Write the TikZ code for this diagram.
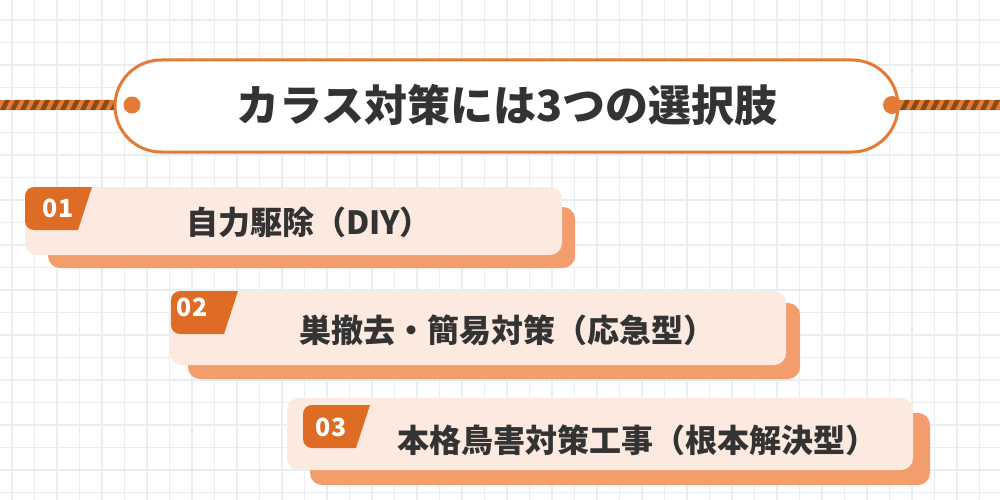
\documentclass[tikz,border=0pt]{standalone}
\usepackage{fontspec}
\newfontfamily\jpfont{Noto Sans CJK JP}
\definecolor{ttlorange}{HTML}{E37B35}
\definecolor{badgec}{HTML}{DF6C24}
\definecolor{cardc}{HTML}{FCE9DF}
\definecolor{shadowc}{HTML}{F39D6C}
\definecolor{ropedark}{HTML}{8A4B12}
\definecolor{textc}{HTML}{333333}
\definecolor{gridc}{HTML}{E9EEF4}
\tikzset{
  front/.style={fill=cardc, rounded corners=12pt},
  shadowbox/.style={fill=shadowc, rounded corners=12pt},
  cardtext/.style={inner sep=0pt, text=textc, font=\jpfont\bfseries\fontsize{32pt}{36pt}\selectfont},
  numtext/.style={inner sep=0pt, text=white, font=\jpfont\bfseries\fontsize{25pt}{28pt}\selectfont},
  titletext/.style={inner sep=0pt, text=textc, font=\jpfont\bfseries\fontsize{43pt}{48pt}\selectfont},
  gridline/.style={gridc, line width=1.1pt},
}
\newcommand\mybadge[2]{%
  \begin{scope}
    \clip[rounded corners=9pt] (#1,#2) rectangle ++(100,43);
    \fill[badgec] (#1,#2) -- ++(67,0) -- ++(-14,43) -- ++(-53,0) -- cycle;
  \end{scope}}
\begin{document}
\begin{tikzpicture}[x=1pt,y=-1pt]
\useasboundingbox (0,0) rectangle (1000,500);
\fill[white] (0,0) rectangle (1000,500);
% grid
\foreach \i in {0,...,44}{
  \draw[gridline] ({12+22.5*\i},0) -- ({12+22.5*\i},500);
}
\foreach \j in {0,...,21}{
  \draw[gridline] (0,{20+22.5*\j}) -- (1000,{20+22.5*\j});
}
% ropes
\begin{scope}
  \clip (0,100) rectangle (120,110);
  \fill[ttlorange] (0,100) rectangle (120,110);
  \foreach \s in {-20,-10,...,120}{
    \fill[ropedark] (\s,110) -- ++(5,0) -- ++(5,-10) -- ++(-5,0) -- cycle;
  }
\end{scope}
\begin{scope}
  \clip (893,100) rectangle (1000,110);
  \fill[ttlorange] (893,100) rectangle (1000,110);
  \foreach \s in {880,890,...,1010}{
    \fill[ropedark] (\s,110) -- ++(5,0) -- ++(5,-10) -- ++(-5,0) -- cycle;
  }
\end{scope}
% title pill
\draw[ttlorange, line width=3pt, fill=white, rounded corners=46pt] (115,60) rectangle (898,152);
\fill[ttlorange] (132,105) circle (8.5);
\fill[ttlorange] (892,105) circle (9);
\node[titletext] (title) at (507,105) {カラス対策には3つの選択肢};
% card 1
\fill[shadowbox] (48,207) rectangle (575,268);
\fill[front] (25,187) rectangle (562,255);
\mybadge{25}{187}
\node[numtext] (n1) at (58,208) {01};
\node[cardtext] (t1) at (309,222) {自力駆除（DIY）};
% card 2
\fill[shadowbox] (188,303) rectangle (800,379);
\fill[front] (170,291) rectangle (786,365);
\mybadge{171}{291}
\node[numtext] (n2) at (192,307) {02};
\node[cardtext] (t2) at (507,330) {巣撤去・簡易対策（応急型）};
% card 3
\fill[shadowbox] (310,413) rectangle (930,485);
\fill[front] (287,398) rectangle (913,470);
\mybadge{303}{405}
\node[numtext] (n3) at (331,427) {03};
\node[cardtext] (t3) at (637,440) {本格鳥害対策工事（根本解決型）};
\end{tikzpicture}
\end{document}
